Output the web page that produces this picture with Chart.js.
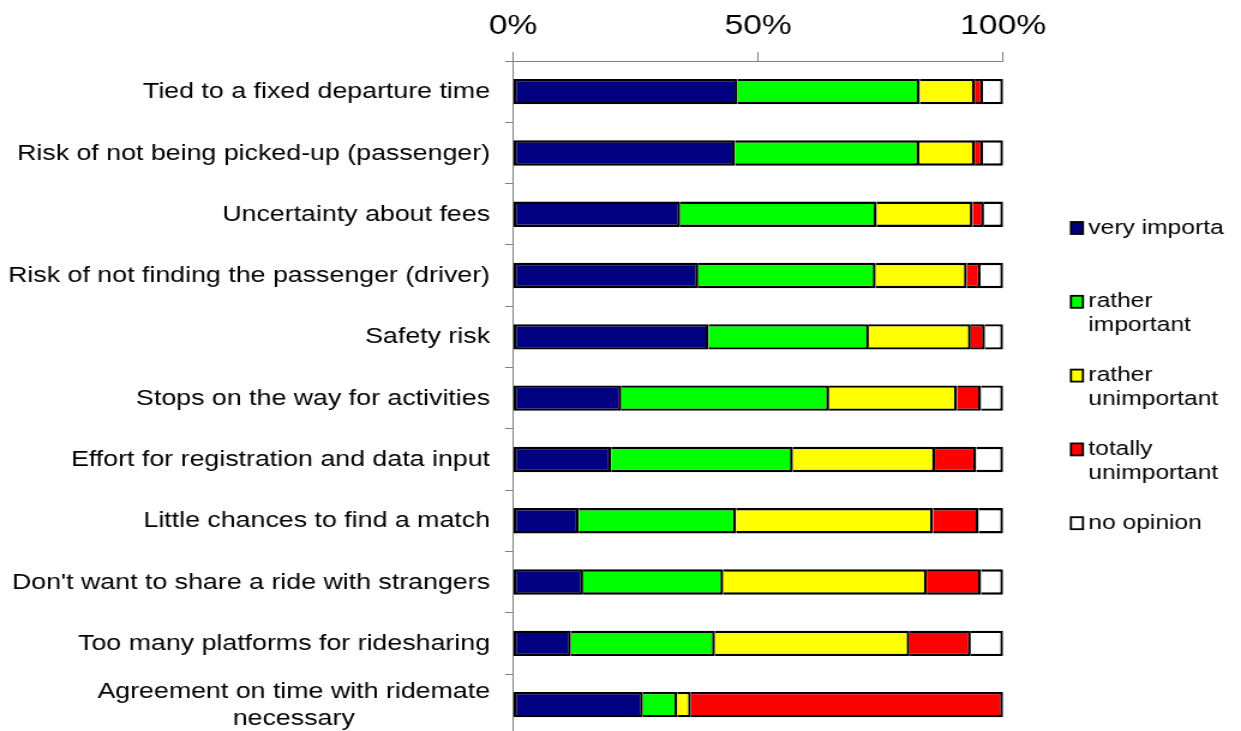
<!DOCTYPE html>
<html>
<head>
<meta charset="utf-8">
<script src="https://cdn.jsdelivr.net/npm/chart.js@4.4.1/dist/chart.umd.min.js"></script>
<style>
  html, body { margin: 0; padding: 0; background: #fff; overflow: hidden; width: 1241px; height: 731px; }
  #chart { display: block; }
</style>
</head>
<body>
<!-- the drawing surface is rendered narrower and widened by CSS, so text and marks share one horizontal scale -->
<canvas id="chart" width="1034" height="740" style="width:1241px;height:740px"></canvas>
<script>
// Reasons against ridesharing, share of answers per rating (%)
const categories = [
  'Tied to a fixed departure time',
  'Risk of not being picked-up (passenger)',
  'Uncertainty about fees',
  'Risk of not finding the passenger (driver)',
  'Safety risk',
  'Stops on the way for activities',
  'Effort for registration and data input',
  'Little chances to find a match',
  "Don't want to share a ride with strangers",
  'Too many platforms for ridesharing',
  ['Agreement on time with ridemate', 'necessary']
];
const veryImportant      = [45.8, 45.3, 34.1, 37.8, 39.9, 22.1, 20.0, 13.4, 14.3, 11.8, 26.5];
const ratherImportant    = [37.2, 37.6, 40.1, 36.2, 32.7, 42.4, 37.1, 32.1, 28.6, 29.4,  7.0];
const ratherUnimportant  = [11.2, 11.3, 19.6, 18.6, 20.8, 26.1, 29.0, 40.2, 41.5, 39.7,  2.8];
const totallyUnimportant = [ 1.7,  1.7,  2.3,  2.8,  2.9,  4.9,  8.4,  9.3, 11.1, 12.5, 63.7];
const noOpinion          = [ 4.1,  4.1,  3.9,  4.6,  3.7,  4.5,  5.5,  5.0,  4.5,  6.6,  0.0];
const seriesNames = ['very importa', 'rather important', 'rather unimportant', 'totally unimportant', 'no opinion'];
const xTickValues = [0, 50, 100];

const seriesValues = [veryImportant, ratherImportant, ratherUnimportant, totallyUnimportant, noOpinion];
const seriesColors = ['#000080', '#00FF00', '#FFFF00', '#FF0000', '#FFFFFF'];

const FONT = '"Liberation Sans", Arial, Helvetica, sans-serif';
Chart.defaults.font.family = FONT;
Chart.defaults.color = '#000';

// Category names, right-aligned against the axis; wrapped lines are centred on each other
const categoryLabels = {
  id: 'categoryLabels',
  afterDraw(chart) {
    const { ctx } = chart;
    const y = chart.scales.y;
    const right = y.right - 6.7 - 12.5;
    const lineHeight = 27.5;
    ctx.save();
    ctx.font = '22.3px ' + FONT;
    ctx.fillStyle = '#000';
    ctx.textBaseline = 'middle';
    ctx.textAlign = 'center';
    chart.data.labels.forEach((label, i) => {
      const lines = Array.isArray(label) ? label : [label];
      const widest = Math.max(...lines.map(l => ctx.measureText(l).width));
      const cy = y.getPixelForValue(i) + 0.5;
      lines.forEach((line, k) => {
        ctx.fillText(line, right - widest / 2, cy + (k - (lines.length - 1) / 2) * lineHeight);
      });
    });
    ctx.restore();
  }
};

// Legend stacked down the right side, entries word-wrapped to the free width
const sideLegend = {
  id: 'sideLegend',
  afterDraw(chart) {
    const { ctx, chartArea } = chart;
    const boxX = chartArea.right + 56.5;
    const textX = boxX + 14.5;
    const maxW = chart.width - textX - 2;
    const firstY = 228, step = 73.8, lineGap = 24;
    ctx.save();
    ctx.font = '20.5px ' + FONT;
    ctx.textBaseline = 'middle';
    ctx.textAlign = 'left';
    chart.data.datasets.forEach((ds, i) => {
      const cy = firstY + i * step;
      ctx.fillStyle = ds.backgroundColor;
      ctx.fillRect(boxX, cy - 6, 10, 12);
      ctx.lineWidth = 1.8;
      ctx.strokeStyle = '#000';
      ctx.strokeRect(boxX, cy - 6, 10, 12);
      const words = ds.label.split(' ');
      const lines = [];
      let cur = '';
      words.forEach(w => {
        const test = cur ? cur + ' ' + w : w;
        if (cur && ctx.measureText(test).width > maxW) { lines.push(cur); cur = w; }
        else cur = test;
      });
      if (cur) lines.push(cur);
      ctx.fillStyle = '#000';
      lines.forEach((line, k) => ctx.fillText(line, textX, cy + k * lineGap));
    });
    ctx.restore();
  }
};

new Chart(document.getElementById('chart'), {
  type: 'bar',
  data: {
    labels: categories,
    datasets: seriesNames.map((name, i) => ({
      label: name,
      data: seriesValues[i],
      backgroundColor: seriesColors[i],
      borderColor: '#000',
      borderWidth: 2.4,
      borderSkipped: i === 0 ? false : 'start',
      barPercentage: 0.415,
      categoryPercentage: 1
    }))
  },
  options: {
    indexAxis: 'y',
    responsive: false,
    animation: false,
    devicePixelRatio: 1,
    layout: { padding: { top: 0, left: 0, right: 198.2, bottom: 4.7 } },
    plugins: { legend: { display: false }, tooltip: { enabled: false } },
    scales: {
      x: {
        position: 'top',
        stacked: true,
        min: 0,
        max: 100,
        afterBuildTicks: s => { s.ticks = xTickValues.map(v => ({ value: v })); },
        afterFit: s => { s.height = 61; },
        ticks: {
          callback: v => v + '%',
          font: { size: 28 },
          color: '#000',
          padding: 8.5,
          maxRotation: 0,
          autoSkip: false
        },
        grid: { drawOnChartArea: false, tickLength: 9, color: '#808080', lineWidth: 1 },
        border: { color: '#808080', width: 1 }
      },
      y: {
        stacked: true,
        afterFit: s => { s.width = 427.5; },
        ticks: { display: false },
        grid: { offset: true, drawOnChartArea: false, tickLength: 6.7, color: '#808080', lineWidth: 1 },
        border: { color: '#808080', width: 1 }
      }
    }
  },
  plugins: [categoryLabels, sideLegend]
});
</script>
</body>
</html>
